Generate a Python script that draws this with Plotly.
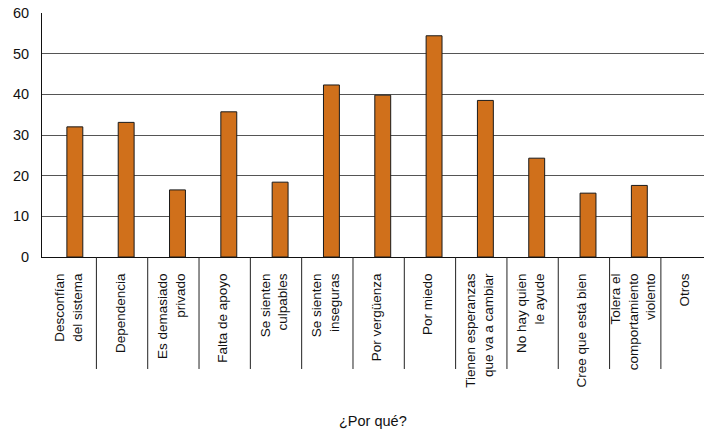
import plotly.graph_objects as go

categories = [
    "Desconfían<br>del sistema",
    "Dependencia",
    "Es demasiado<br>privado",
    "Falta de apoyo",
    "Se sienten<br>culpables",
    "Se sienten<br>inseguras",
    "Por vergüenza",
    "Por miedo",
    "Tienen esperanzas<br>que va a cambiar",
    "No hay quien<br>le ayude",
    "Cree que está bien",
    "Tolera el<br>comportamiento<br>violento",
    "Otros",
]
values = [32.0, 33.1, 16.5, 35.7, 18.4, 42.3, 39.8, 54.4, 38.5, 24.3, 15.7, 17.6, 0]
y_ticks = [0, 10, 20, 30, 40, 50, 60]
x_title = "¿Por qué?"

idx = list(range(len(categories)))

fig = go.Figure()
fig.add_trace(go.Bar(
    x=idx, y=values,
    width=0.31,
    marker=dict(color="#D0701B",
                line=dict(color="#1a1a1a", width=[1 if v > 0 else 0 for v in values])),
))

# category separators below the axis
shapes = []
for i in idx[:-1]:
    shapes.append(dict(type="line", xref="x", yref="paper",
                       x0=i + 0.42, x1=i + 0.42, y0=0, y1=-0.459,
                       line=dict(color="#222", width=1)))

fig.update_layout(
    width=704, height=436,
    margin=dict(l=42, r=0, t=13, b=179, autoexpand=False),
    plot_bgcolor="white", paper_bgcolor="white",
    showlegend=False,
    font=dict(family="Liberation Sans, Arial, sans-serif", size=14.5, color="#111"),
    shapes=shapes,
    xaxis=dict(
        tickmode="array", tickvals=idx, ticktext=categories,
        tickangle=-90, range=[-0.64, 12.26],
        showgrid=False, showline=True, linecolor="#111", linewidth=1,
        ticks="", ticklabelstandoff=10, ticklabelshift=-6, automargin=False,
        ticklabeloverflow="allow",
        tickfont=dict(size=13.5),
    ),
    yaxis=dict(
        range=[0, 60], tickvals=y_ticks,
        showgrid=True, gridcolor="#555", gridwidth=1,
        showline=True, linecolor="#111", linewidth=1,
        ticks="", ticklabelstandoff=9, automargin=False,
        ticklabeloverflow="allow",
        zeroline=False,
    ),
    annotations=[dict(text=x_title, xref="paper", yref="paper",
                      x=0.5, y=-0.672, showarrow=False,
                      xanchor="center", yanchor="middle",
                      font=dict(size=14.5))],
)

fig.write_html("out.html", config={"displayModeBar": False},
               post_script="document.body.style.margin='0px';")
